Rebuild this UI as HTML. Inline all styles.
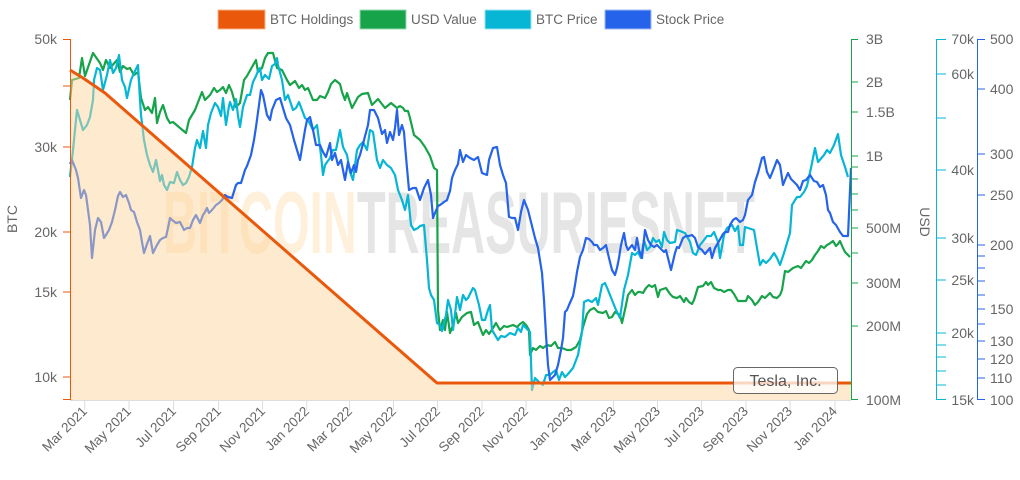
<!DOCTYPE html>
<html><head><meta charset="utf-8"><style>
html,body{margin:0;padding:0;background:#fff;}
svg{display:block;font-family:"Liberation Sans",sans-serif;}
</style></head><body>
<svg width="1020" height="480" viewBox="0 0 1020 480" xmlns="http://www.w3.org/2000/svg">
<!-- legend -->
<g font-size="13.5" fill="#666">
<rect x="218" y="10" width="47" height="19" fill="#ea580c" stroke="#f8b48a"/>
<text x="270" y="24">BTC Holdings</text>
<rect x="360" y="10" width="46" height="19" fill="#16a34a" stroke="#9ad8b0"/>
<text x="411" y="24">USD Value</text>
<rect x="485" y="10" width="46" height="19" fill="#06b6d4" stroke="#9ae3ef"/>
<text x="536" y="24">BTC Price</text>
<rect x="605" y="10" width="46" height="19" fill="#2563eb" stroke="#9db8f5"/>
<text x="656" y="24">Stock Price</text>
</g>
<!-- watermark -->
<text x="163" y="253" font-family="'Liberation Sans Narrow','Liberation Sans',sans-serif" font-weight="bold" font-size="88" textLength="592" lengthAdjust="spacingAndGlyphs"><tspan fill="rgba(253,186,90,0.22)">BITCOIN</tspan><tspan fill="rgba(190,190,190,0.4)">TREASURIESNET</tspan></text>
<!-- bottom axis -->
<line x1="70" y1="400.5" x2="851" y2="400.5" stroke="#ddd"/>
<g stroke="#ddd">
<line x1="84.7" y1="400" x2="84.7" y2="410"/><line x1="129" y1="400" x2="129" y2="410"/><line x1="173.5" y1="400" x2="173.5" y2="410"/><line x1="218.5" y1="400" x2="218.5" y2="410"/><line x1="262.5" y1="400" x2="262.5" y2="410"/><line x1="306.7" y1="400" x2="306.7" y2="410"/><line x1="349.5" y1="400" x2="349.5" y2="410"/><line x1="393.5" y1="400" x2="393.5" y2="410"/><line x1="437.5" y1="400" x2="437.5" y2="410"/><line x1="482" y1="400" x2="482" y2="410"/><line x1="526" y1="400" x2="526" y2="410"/><line x1="571" y1="400" x2="571" y2="410"/><line x1="613.5" y1="400" x2="613.5" y2="410"/><line x1="657.5" y1="400" x2="657.5" y2="410"/><line x1="701.5" y1="400" x2="701.5" y2="410"/><line x1="746" y1="400" x2="746" y2="410"/><line x1="790" y1="400" x2="790" y2="410"/><line x1="835" y1="400" x2="835" y2="410"/>
</g>
<g font-size="13.5" fill="#666" text-anchor="end">
<text transform="translate(88,412) rotate(-45)">Mar 2021</text>
<text transform="translate(132,412) rotate(-45)">May 2021</text>
<text transform="translate(177,412) rotate(-45)">Jul 2021</text>
<text transform="translate(222,412) rotate(-45)">Sep 2021</text>
<text transform="translate(266,412) rotate(-45)">Nov 2021</text>
<text transform="translate(310,412) rotate(-45)">Jan 2022</text>
<text transform="translate(353,412) rotate(-45)">Mar 2022</text>
<text transform="translate(397,412) rotate(-45)">May 2022</text>
<text transform="translate(441,412) rotate(-45)">Jul 2022</text>
<text transform="translate(485,412) rotate(-45)">Sep 2022</text>
<text transform="translate(529,412) rotate(-45)">Nov 2022</text>
<text transform="translate(574,412) rotate(-45)">Jan 2023</text>
<text transform="translate(617,412) rotate(-45)">Mar 2023</text>
<text transform="translate(661,412) rotate(-45)">May 2023</text>
<text transform="translate(705,412) rotate(-45)">Jul 2023</text>
<text transform="translate(749,412) rotate(-45)">Sep 2023</text>
<text transform="translate(793,412) rotate(-45)">Nov 2023</text>
<text transform="translate(838,412) rotate(-45)">Jan 2024</text>
</g>
<!-- series -->
<g fill="none" stroke-width="2.2" stroke-linejoin="round">
<polyline stroke="#16a34a" points="70,100 72,80 79,78 82,58 85,76 93,53 100,63 103,70 106,60 110,68 117,60 120,72 123,66 127,69 130,68 134,75 138,72 141,98 145,110 148,107 152,113 155,98 157,123 160,112 163,105 167,118 170,123 173,122 180,128 186,133 189,120 195,110 202,92 205,100 210,95 214,88 217,92 220,90 223,87 226,93 229,85 232,92 236,107 240,103 244,80 247,76 252,67 256,60 258,72 262,68 265,58 268,53 273,53 277,68 282,70 287,80 290,85 295,81 299,88 302,85 305,90 308,88 313,100 317,100 320,96 325,98 328,92 331,84 335,80 340,84 342,92 345,100 347,93 352,108 358,97 362,94 368,93 372,105 378,99 385,108 391,103 397,108 400,106 403,108 405,111 408,111 410,118 414,135 420,140 425,147 430,156 434,168 437,170 438,310 440,330 443,320 445,330 447,312 450,333 453,325 456,313 458,323 462,317 467,313 471,312 474,325 478,322 481,330 483,335 486,330 489,334 493,328 496,323 500,330 504,326 507,327 513,325 517,327 520,324 523,322 526,325 529,330 530,355 533,348 536,350 540,346 543,348 547,345 551,346 555,342 558,348 562,348 567,350 571,350 576,347 580,340 583,327 587,314 590,310 594,308 598,312 603,313 606,311 609,318 612,317 615,312 620,315 622,323 626,305 628,295 632,290 635,295 638,292 640,292 643,293 646,288 649,285 652,287 655,285 658,297 660,290 663,289 666,288 668,291 670,294 673,297 677,298 680,296 684,302 686,298 689,302 692,304 694,300 698,287 703,286 706,282 708,285 711,282 714,288 718,290 721,290 724,292 728,290 731,290 734,294 738,301 742,301 746,301 748,296 752,300 755,305 758,302 762,296 765,298 770,293 773,297 777,298 780,295 782,290 785,271 788,272 793,268 798,266 801,268 806,261 809,263 812,260 815,255 818,251 821,246 824,248 827,245 829,244 833,241 836,246 838,244 840,241 843,248 845,252 850,257"/>
<polyline stroke="#06b6d4" points="70,177 73,150 77,110 80,120 83,130 87,125 90,117 93,100 94,80 97,68 100,70 103,90 107,75 110,60 113,73 116,68 119,55 122,80 125,87 127,98 131,80 134,73 138,65 140,100 141,115 144,140 147,155 150,165 153,172 156,160 158,170 160,181 162,175 164,185 167,190 170,182 174,183 177,172 180,180 183,185 186,183 189,177 192,167 195,148 197,140 200,148 203,131 206,148 208,125 211,113 215,103 218,107 221,116 223,98 226,125 229,106 230,102 233,110 236,99 238,116 240,127 243,107 247,95 250,95 253,82 256,76 258,71 260,68 262,80 265,75 269,79 272,66 275,64 277,58 278,65 282,80 285,100 288,95 293,110 296,108 299,102 302,110 305,118 308,120 313,130 317,125 321,155 323,175 325,165 330,158 333,150 336,150 340,130 343,147 347,155 350,172 353,180 357,150 360,145 363,142 367,150 370,130 373,132 377,160 380,168 383,160 387,165 391,168 395,175 398,190 402,200 405,210 408,195 411,225 414,230 418,228 420,226 424,225 427,260 429,288 431,295 434,300 437,323 440,325 442,331 446,315 448,300 451,310 453,330 455,314 457,297 460,310 463,295 466,300 468,298 470,294 473,288 475,290 479,305 482,320 485,320 488,310 490,305 492,330 495,335 498,340 501,336 505,337 510,333 515,335 518,328 521,332 523,325 526,328 530,332 532,390 535,378 539,382 543,385 546,375 550,375 553,372 556,370 559,380 562,372 565,377 568,374 573,368 578,355 582,332 584,302 588,300 592,302 596,298 598,305 602,285 605,283 608,290 612,300 616,310 620,318 624,290 628,275 632,253 635,255 638,252 641,258 644,240 647,250 650,247 653,238 656,242 659,240 662,247 664,232 667,240 670,243 675,242 677,230 680,231 685,233 690,242 693,253 696,255 700,245 704,240 707,236 711,236 714,232 718,242 720,258 724,235 727,228 732,225 735,231 738,226 740,245 743,245 745,227 748,228 754,230 757,248 760,265 763,260 766,263 770,259 774,253 777,258 780,265 784,253 787,243 790,233 792,205 797,197 800,197 804,192 807,186 811,168 815,148 818,162 824,155 827,150 830,153 834,145 838,134 841,155 845,167 848,177"/>
<polyline stroke="#2563eb" points="70,164 72,160 76,170 78,178 81,198 84,190 86,195 90,225 92,258 95,230 98,218 101,222 104,238 106,235 109,230 112,222 115,210 118,196 120,192 123,197 126,195 129,203 131,210 134,212 137,222 140,230 142,242 144,253 147,244 150,236 153,253 157,245 160,240 163,238 166,237 168,228 170,218 172,220 176,223 180,222 184,230 187,228 190,228 193,220 196,215 200,223 203,215 205,212 207,208 209,213 212,210 216,205 219,203 222,200 225,195 228,197 232,198 236,185 238,183 241,183 245,170 247,166 251,155 254,140 256,127 259,105 261,90 263,95 267,115 270,120 272,110 276,100 280,98 283,108 286,118 290,125 294,140 297,150 300,160 302,148 305,130 307,120 310,117 313,130 316,145 320,145 323,152 326,157 330,143 332,160 335,153 338,165 341,160 345,180 348,162 351,173 354,165 356,172 358,160 360,155 364,140 368,125 370,110 374,110 378,118 382,134 385,130 387,143 390,132 393,140 395,128 397,110 399,135 402,125 404,132 405,145 407,168 409,190 413,188 416,188 420,200 424,188 428,180 431,195 433,218 435,213 438,206 440,205 444,202 447,200 450,191 452,178 455,170 458,164 460,150 463,162 466,155 470,158 474,160 478,157 480,165 482,173 487,175 489,160 493,148 497,147 500,165 503,175 506,183 509,217 512,218 515,218 518,230 521,212 524,200 528,210 530,218 535,238 538,248 542,273 544,300 546,335 548,365 550,380 552,378 555,375 558,365 561,350 563,338 565,312 567,310 569,305 573,296 575,285 577,272 580,257 583,250 586,238 589,239 592,242 594,245 597,245 600,250 603,248 606,245 609,258 612,270 615,275 617,268 619,258 621,245 624,233 626,245 628,250 632,245 635,250 637,238 639,250 642,258 645,230 648,240 651,245 654,247 657,245 660,248 664,252 666,250 668,258 671,270 675,253 677,247 679,248 683,238 686,236 689,236 692,235 695,238 698,247 702,250 705,254 710,248 712,258 715,248 718,243 723,234 725,232 728,232 730,225 733,220 736,218 740,222 743,220 745,215 748,200 752,195 755,182 758,173 762,158 764,157 767,172 770,178 774,168 777,160 780,165 783,185 785,180 788,173 791,179 794,182 797,185 800,190 803,181 806,180 810,175 814,181 817,182 820,187 823,185 826,195 828,210 830,213 833,222 836,225 840,232 843,236 848,236 851,168"/>
</g>
<!-- BTC holdings area -->
<polygon points="70,70 83,78 105,93 437,383 851,383 851,400 70,400" fill="rgba(250,212,155,0.48)"/>
<polyline points="70,70 83,78 105,93 437,383 851,383" fill="none" stroke="#ea580c" stroke-width="3" stroke-linejoin="round"/>
<!-- left axis -->
<line x1="70.5" y1="39" x2="70.5" y2="400" stroke="#ea580c"/>
<g stroke="#ea580c"><line x1="63" y1="39.5" x2="70" y2="39.5"/><line x1="63" y1="86" x2="70" y2="86"/><line x1="63" y1="147" x2="70" y2="147"/><line x1="63" y1="232" x2="70" y2="232"/><line x1="63" y1="292" x2="70" y2="292"/><line x1="63" y1="377" x2="70" y2="377"/><line x1="63" y1="399.5" x2="70" y2="399.5"/></g>
<g font-size="14" fill="#666" text-anchor="end">
<text x="57" y="44">50k</text><text x="57" y="152">30k</text><text x="57" y="237">20k</text><text x="57" y="297">15k</text><text x="57" y="382">10k</text>
</g>
<text transform="translate(17,219) rotate(-90)" font-size="14" fill="#666" text-anchor="middle">BTC</text>
<!-- green axis -->
<line x1="851.5" y1="39" x2="851.5" y2="400" stroke="#16a34a"/>
<g stroke="#16a34a"><line x1="851" y1="39.5" x2="858" y2="39.5"/><line x1="851" y1="82" x2="858" y2="82"/><line x1="851" y1="112" x2="858" y2="112"/><line x1="851" y1="156" x2="858" y2="156"/><line x1="851" y1="167" x2="858" y2="167"/><line x1="851" y1="179" x2="858" y2="179"/><line x1="851" y1="194" x2="858" y2="194"/><line x1="851" y1="210" x2="858" y2="210"/><line x1="851" y1="228" x2="858" y2="228"/><line x1="851" y1="253" x2="858" y2="253"/><line x1="851" y1="283" x2="858" y2="283"/><line x1="851" y1="326" x2="858" y2="326"/><line x1="851" y1="399.5" x2="858" y2="399.5"/></g>
<g font-size="14" fill="#666">
<text x="866" y="44">3B</text><text x="866" y="87">2B</text><text x="866" y="117">1.5B</text><text x="866" y="161">1B</text><text x="866" y="233">500M</text><text x="866" y="288">300M</text><text x="866" y="331">200M</text><text x="866" y="405">100M</text>
</g>
<text transform="translate(920,222) rotate(90)" font-size="14" fill="#666" text-anchor="middle">USD</text>
<!-- cyan axis -->
<line x1="936.5" y1="39" x2="936.5" y2="400" stroke="#06b6d4"/>
<g stroke="#06b6d4"><line x1="936" y1="39.5" x2="946" y2="39.5"/><line x1="936" y1="74" x2="946" y2="74"/><line x1="936" y1="118" x2="946" y2="118"/><line x1="936" y1="170" x2="946" y2="170"/><line x1="936" y1="238" x2="946" y2="238"/><line x1="936" y1="280" x2="946" y2="280"/><line x1="936" y1="333" x2="946" y2="333"/><line x1="936" y1="345" x2="946" y2="345"/><line x1="936" y1="357" x2="946" y2="357"/><line x1="936" y1="371" x2="946" y2="371"/><line x1="936" y1="385" x2="946" y2="385"/><line x1="936" y1="399.5" x2="946" y2="399.5"/></g>
<g font-size="14" fill="#666" text-anchor="end">
<text x="974" y="44">70k</text><text x="974" y="79">60k</text><text x="974" y="175">40k</text><text x="974" y="243">30k</text><text x="974" y="285">25k</text><text x="974" y="338">20k</text><text x="974" y="405">15k</text>
</g>
<!-- blue axis -->
<line x1="977.5" y1="39" x2="977.5" y2="400" stroke="#2563eb"/>
<g stroke="#2563eb"><line x1="977" y1="39.5" x2="985" y2="39.5"/><line x1="977" y1="89" x2="985" y2="89"/><line x1="977" y1="154" x2="985" y2="154"/><line x1="977" y1="195" x2="985" y2="195"/><line x1="977" y1="245" x2="985" y2="245"/><line x1="977" y1="256" x2="985" y2="256"/><line x1="977" y1="268" x2="985" y2="268"/><line x1="977" y1="281" x2="985" y2="281"/><line x1="977" y1="295" x2="985" y2="295"/><line x1="977" y1="309" x2="985" y2="309"/><line x1="977" y1="324" x2="985" y2="324"/><line x1="977" y1="341" x2="985" y2="341"/><line x1="977" y1="359" x2="985" y2="359"/><line x1="977" y1="378" x2="985" y2="378"/><line x1="977" y1="399.5" x2="985" y2="399.5"/></g>
<g font-size="14" fill="#666">
<text x="990" y="44">500</text><text x="990" y="94">400</text><text x="990" y="159">300</text><text x="990" y="200">250</text><text x="990" y="250">200</text><text x="990" y="314">150</text><text x="990" y="346">130</text><text x="990" y="364">120</text><text x="990" y="383">110</text><text x="990" y="405">100</text>
</g>
<!-- label -->
<rect x="733.5" y="367.5" width="104" height="26" rx="4" fill="rgba(255,255,255,0.75)" stroke="#666"/>
<text x="785.5" y="386" font-size="16" fill="#555" text-anchor="middle">Tesla, Inc.</text>
</svg>
</body></html>
